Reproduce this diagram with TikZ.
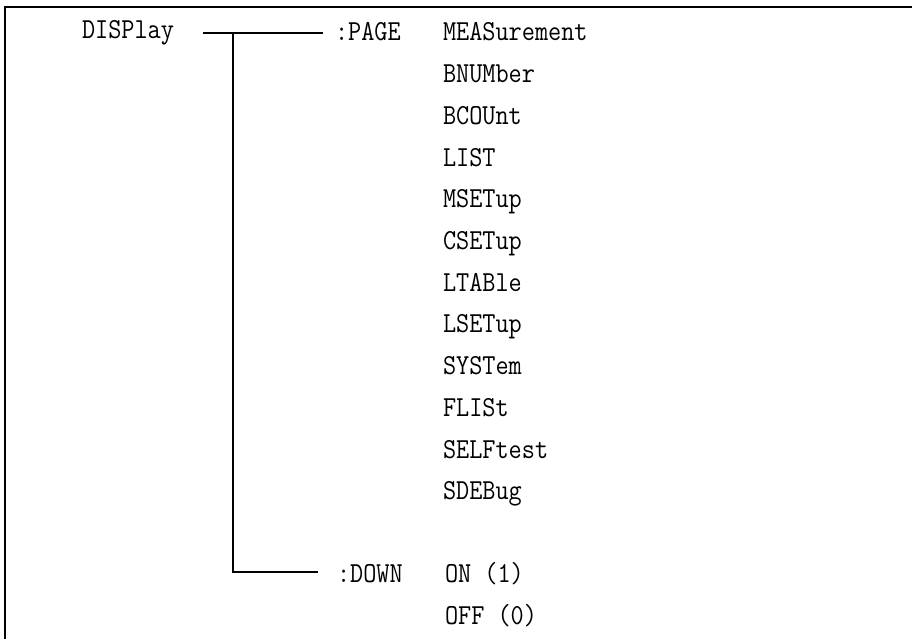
\documentclass[tikz,border=0pt]{standalone}
\usepackage{graphicx}
\newcommand{\cmdtxt}[1]{\scalebox{0.88}[1]{\fontsize{29}{29}\selectfont\ttfamily #1}}
\tikzset{
  lbl/.style={anchor=base west, inner sep=0pt, outer sep=0pt},
  conn/.style={line width=1.8pt, line cap=butt},
  frame/.style={line width=2pt}
}
\begin{document}
\begin{tikzpicture}[x=1pt,y=-1pt]
\useasboundingbox (0,0) rectangle (912,639);
\draw[frame] (4.5,639) -- (4.5,7.5) -- (912,7.5);
\node[lbl] (disp) at (82,39) {\cmdtxt{DISPlay}};
\node[lbl] (page) at (335,41) {\cmdtxt{:PAGE}};
\foreach \t [count=\i from 0] in {MEASurement,BNUMber,BCOUnt,LIST,MSETup,CSETup,LTABle,LSETup,SYSTem,FLISt,SELFtest,SDEBug}{
  \node[lbl] (it\i) at (443,41+41.7*\i) {\cmdtxt{\t}};
}
\node[lbl] (down) at (337,582) {\cmdtxt{:DOWN}};
\node[lbl] (on) at (445,582) {\cmdtxt{ON (1)}};
\node[lbl] (off) at (445,624) {\cmdtxt{OFF (0)}};
\coordinate (ls) at (203,33);
\coordinate (jt) at (233,33);
\coordinate (pe) at (323,33);
\coordinate (jb) at (233,572);
\coordinate (de) at (318,572);
\draw[conn] (ls) -- (pe);
\draw[conn] (jt) -- (jb) -- (de);
\end{tikzpicture}
\end{document}
